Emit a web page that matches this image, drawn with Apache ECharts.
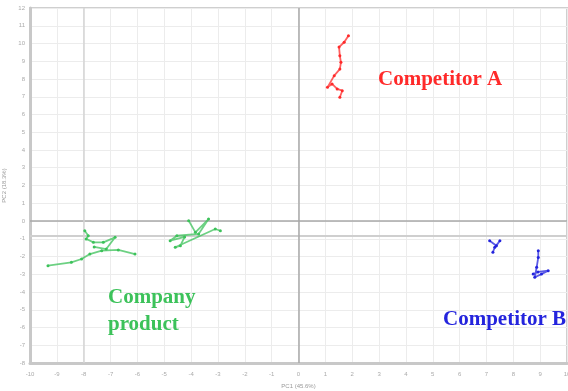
<!DOCTYPE html>
<html>
<head>
<meta charset="utf-8">
<script src="https://cdn.jsdelivr.net/npm/echarts@6/dist/echarts.min.js"></script>
<style>html,body{margin:0;padding:0;background:#fff}#chart{width:568px;height:391px}</style>
</head>
<body>
<div id="chart"></div>
<script>
// PCA score trajectories, [PC1, PC2]
var competitorA = [[1.86,10.44],[1.70,10.07],[1.51,9.80],[1.54,9.31],[1.58,8.94],[1.54,8.56],[1.33,8.19],[1.08,7.53],[1.25,7.72],[1.44,7.44],[1.63,7.34],[1.54,6.97]];
var competitorB1 = [[7.12,-1.11],[7.37,-1.39],[7.50,-1.11],[7.31,-1.48],[7.24,-1.76]];
var competitorB2 = [[8.93,-1.67],[8.93,-2.05],[8.87,-2.61],[8.80,-3.17],[9.05,-2.99],[9.30,-2.80],[8.92,-2.87],[8.74,-2.99]];
var productLow = [[-9.33,-2.52],[-8.46,-2.33],[-8.08,-2.14],[-7.77,-1.86],[-7.33,-1.67],[-6.71,-1.63],[-6.09,-1.86]];
var productLoop = [[-7.96,-0.55],[-7.83,-0.83],[-7.91,-1.01],[-7.64,-1.20],[-7.27,-1.20],[-6.83,-0.92],[-7.16,-1.58],[-7.61,-1.46]];
var productHigh = [[-4.09,0.02],[-3.84,-0.64],[-3.35,0.11],[-3.72,-0.73],[-4.53,-0.83],[-4.78,-1.11],[-4.24,-0.90],[-4.40,-1.39],[-4.59,-1.48],[-3.10,-0.45],[-2.91,-0.55]];
var xTicks = [-10,10,1];
var yTicks = [-8,12,1];
var xTitle = 'PC1 (45.6%)';
var yTitle = 'PC2 (18.3%)';

var RED = '#ff2a2a', GREEN = '#3cc25a', BLUE = '#2424dd';
var LABEL_FONT = 'bold 21px "Liberation Serif", serif';

function track(data, color) {
  return {
    type: 'line', data: data, symbol: 'circle', symbolSize: 3,
    lineStyle: { color: color, width: 1.8, opacity: 0.75 },
    itemStyle: { color: color }, z: 5, silent: true
  };
}

function tag(text, x, y, color) {
  return { type: 'text', z: 100, x: x, y: y,
           style: { text: text, fill: color, font: LABEL_FONT, verticalAlign: 'middle' } };
}

var chart = echarts.init(document.getElementById('chart'));
chart.setOption({
  animation: false,
  grid: { left: 30, right: 1, top: 8, bottom: 28, outerBoundsMode: 'none', containLabel: false,
          show: true, borderColor: '#cfcfcf', borderWidth: 2 },
  xAxis: {
    type: 'value', min: xTicks[0], max: xTicks[1], interval: xTicks[2],
    name: xTitle, nameLocation: 'middle', nameGap: 20,
    nameTextStyle: { fontSize: 6, color: '#999' },
    axisLine: { onZero: false, lineStyle: { color: '#c8c8c8', width: 3 } },
    axisTick: { show: false },
    axisLabel: { fontSize: 6, color: '#aaa', margin: 8 },
    splitLine: { lineStyle: { color: '#ececec', width: 1 } }
  },
  yAxis: {
    type: 'value', min: yTicks[0], max: yTicks[1], interval: yTicks[2],
    name: yTitle, nameLocation: 'middle', nameGap: 16,
    nameTextStyle: { fontSize: 6, color: '#999' },
    axisLine: { onZero: false, lineStyle: { color: '#c8c8c8', width: 3 } },
    axisTick: { show: false },
    axisLabel: { fontSize: 6, color: '#aaa', margin: 5 },
    splitLine: { lineStyle: { color: '#ececec', width: 1 } }
  },
  series: [
    {
      type: 'line', data: [], silent: true,
      markLine: {
        symbol: 'none', silent: true, label: { show: false },
        data: [
          { yAxis: 0, lineStyle: { color: '#a8a8a8', width: 1.5, type: 'solid' } },
          { yAxis: -0.83, lineStyle: { color: '#cfcfcf', width: 2, type: 'solid' } },
          { xAxis: 0, lineStyle: { color: '#a8a8a8', width: 1.5, type: 'solid' } },
          { xAxis: -8, lineStyle: { color: '#d4d4d4', width: 1.5, type: 'solid' } }
        ]
      }
    },
    track(competitorA, RED),
    track(competitorB1, BLUE),
    track(competitorB2, BLUE),
    track(productLow, GREEN),
    track(productLoop, GREEN),
    track(productHigh, GREEN)
  ],
  graphic: [
    tag('Competitor A', 378, 80, RED),
    tag('Company', 108, 298, GREEN),
    tag('product', 108, 325, GREEN),
    tag('Competitor B', 443, 320, BLUE)
  ]
});
</script>
</body>
</html>
